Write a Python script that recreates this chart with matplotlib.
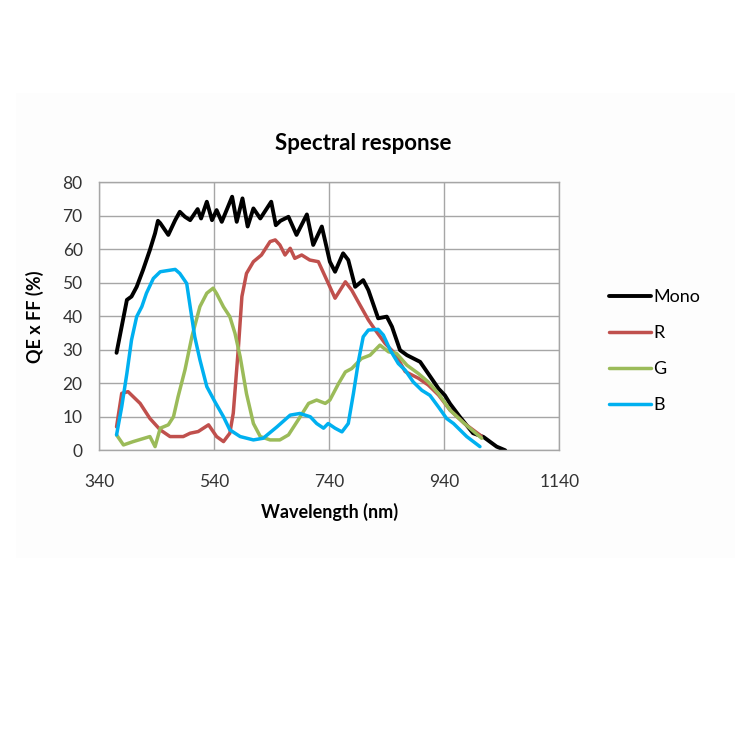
import numpy as np
import matplotlib
matplotlib.use('Agg')
import matplotlib.pyplot as plt
from matplotlib.patches import Rectangle

plt.rcParams['font.family'] = ['Lato', 'DejaVu Sans']

# (nm, QE x FF %)
mono_nm = [370, 388, 396, 405, 416, 428, 437, 442, 446, 460, 472, 480, 489, 498, 511, 517,
           527, 536, 544, 553, 571, 579, 589, 598, 608, 620, 639, 647, 655, 669, 683, 701,
           712, 727, 741, 750, 764, 773, 785, 799, 808, 825, 840, 849, 863, 875, 898, 912,
           930, 941, 950, 967, 990, 1008, 1031, 1046]
mono_qe = [29.1, 44.9, 45.9, 48.8, 53.8, 59.8, 64.8, 68.5, 67.8, 64.3, 68.7, 71.2, 69.7, 68.7, 72.0, 69.2,
           74.2, 68.7, 71.7, 68.2, 75.7, 68.2, 75.2, 66.8, 72.2, 69.2, 74.2, 67.2, 68.5, 69.7, 64.3, 70.4,
           61.3, 66.8, 56.3, 53.3, 58.8, 56.8, 48.8, 50.8, 47.8, 39.4, 39.9, 36.9, 29.9, 28.4, 26.4, 22.9,
           18.4, 16.4, 13.9, 10.0, 5.1, 4.0, 1.1, 0.0]

r_nm = [370, 379, 390, 411, 428, 446, 463, 486, 498, 512, 530, 544, 556, 567, 573, 582,
        588, 596, 608, 622, 637, 646, 654, 663, 672, 680, 692, 706, 721, 733, 750, 768,
        779, 790, 808, 820, 837, 854, 872, 895, 912, 930, 950, 975, 1004]
r_qe = [7.0, 17.0, 17.5, 14.0, 9.5, 6.1, 4.1, 4.1, 5.1, 5.6, 7.6, 4.1, 2.6, 5.1, 11.1, 30.9,
        45.9, 52.8, 56.3, 58.3, 62.3, 62.8, 61.3, 58.3, 60.3, 57.3, 58.3, 56.8, 56.3, 51.8, 45.4, 50.3,
        47.8, 44.4, 38.9, 35.9, 31.9, 28.9, 23.5, 21.5, 19.5, 16.5, 12.0, 8.0, 4.3]

g_nm = [370, 382, 399, 428, 437, 446, 460, 469, 477, 489, 501, 515, 527, 538, 544, 556,
        567, 576, 585, 596, 608, 620, 637, 654, 669, 686, 704, 718, 733, 741, 756, 768,
        779, 796, 811, 828, 843, 857, 875, 895, 912, 930, 950, 975, 1005]
g_qe = [4.6, 1.6, 2.6, 4.1, 1.1, 6.6, 7.6, 10.0, 16.0, 24.0, 33.9, 42.9, 46.9, 48.4, 46.8, 42.8,
        39.9, 34.9, 27.9, 16.9, 8.0, 4.1, 3.1, 3.1, 4.6, 9.1, 14.0, 15.0, 14.0, 15.0, 19.9, 23.4,
        24.4, 27.4, 28.4, 31.4, 29.4, 28.9, 25.4, 22.9, 20.4, 16.9, 12.0, 8.0, 3.6]

b_nm = [370, 379, 388, 396, 405, 414, 422, 434, 446, 457, 472, 480, 492, 498, 506, 515,
        527, 541, 556, 567, 585, 608, 625, 649, 672, 689, 707, 718, 730, 738, 750, 762,
        773, 782, 791, 799, 808, 825, 834, 846, 860, 872, 886, 901, 915, 930, 944, 956,
        979, 1002]
b_qe = [4.6, 13.0, 23.0, 32.9, 39.9, 42.9, 46.9, 51.3, 53.3, 53.6, 54.0, 52.8, 49.8, 42.9, 33.9, 27.0,
        19.0, 14.5, 10.0, 6.1, 4.1, 3.1, 3.6, 7.0, 10.5, 11.0, 10.0, 8.0, 6.6, 8.0, 6.6, 5.5,
        8.0, 17.0, 26.9, 33.9, 35.9, 36.1, 34.4, 29.9, 25.9, 23.9, 20.4, 17.9, 16.4, 12.9, 9.5, 8.0,
        4.1, 1.1]

series = [('Mono', mono_nm, mono_qe, '#000000', 2.8),
          ('R', r_nm, r_qe, '#c0504d', 2.5),
          ('G', g_nm, g_qe, '#9bbb59', 2.5),
          ('B', b_nm, b_qe, '#00b0f0', 2.5)]

fig = plt.figure(figsize=(7.5, 7.5), dpi=100)
# faint chart-area panel behind everything
fig.patches.append(Rectangle((16/750, 1 - 558/750), 719/750, 465/750,
                             transform=fig.transFigure, facecolor='#fdfdfd',
                             edgecolor='none', zorder=-10))
ax = fig.add_axes([99.3/750, 1 - 450.3/750, 460/750, 268/750])
ax.set_zorder(2)
ax.set_facecolor('white')

for name, x, y, c, w in series:
    ax.plot(x, y, color=c, lw=w, label=name, solid_joinstyle='round', solid_capstyle='round')

ax.set_xlim(340, 1140)
ax.set_ylim(0, 80)
ax.set_xticks([340, 540, 740, 940, 1140])
ax.set_yticks(range(0, 81, 10))
ax.grid(True, color='#a6a6a6', lw=1)
ax.set_axisbelow(True)
for s in ax.spines.values():
    s.set_color('#a6a6a6')
    s.set_linewidth(1)
ax.tick_params(length=0, labelsize=12.5, colors='#333333')
ax.tick_params(axis='x', pad=17)
ax.tick_params(axis='y', pad=12)

ax.set_xlabel('Wavelength (nm)', fontsize=13, fontweight='bold', labelpad=9)
ax.set_ylabel('QE x FF (%)', fontsize=13, fontweight='bold', labelpad=13)
fig.text(363/750, 1 - 143/750, 'Spectral response', ha='center', va='center',
         fontsize=16, fontweight='bold')

leg = ax.legend(loc='center left', bbox_to_anchor=(1.108, 0.37), frameon=False,
                borderaxespad=0, borderpad=0,
                fontsize=13, handlelength=2.3, handletextpad=0.15, labelspacing=1.1)

fig.savefig('out.png', dpi=100)
